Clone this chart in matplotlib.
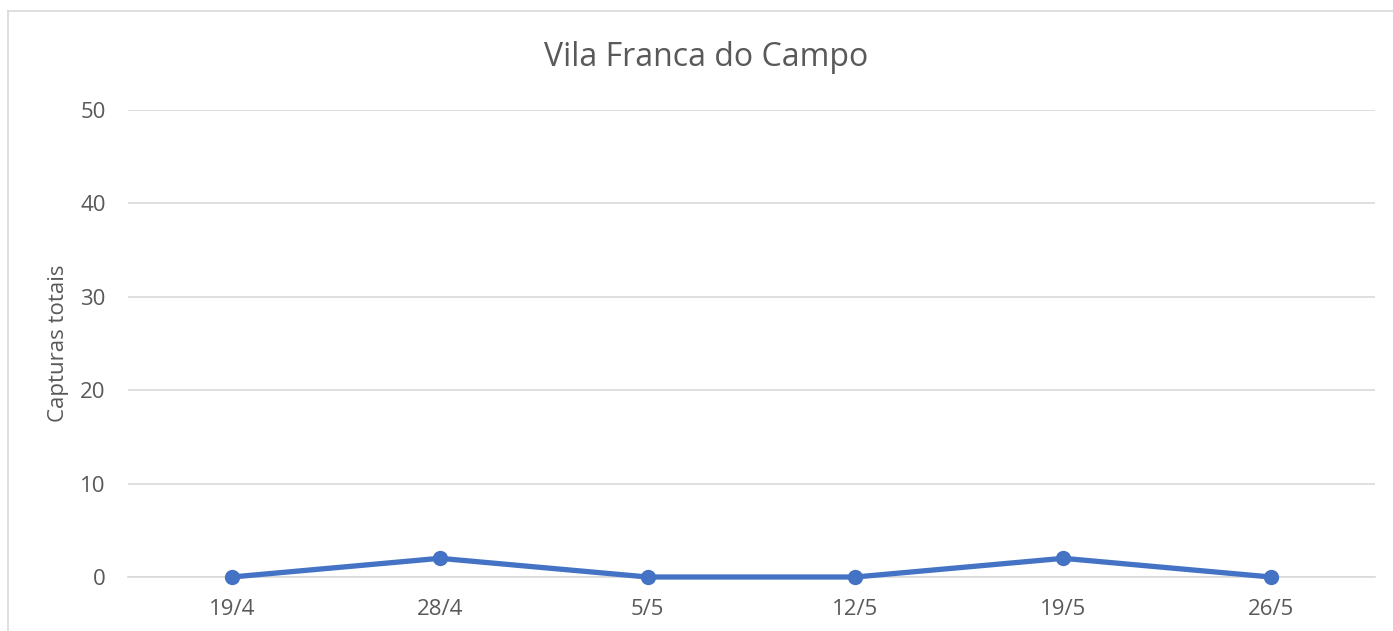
import matplotlib.pyplot as plt
from matplotlib.lines import Line2D

datas = ["19/4", "28/4", "5/5", "12/5", "19/5", "26/5"]
capturas = [0, 2, 0, 0, 2, 0]
y_ticks = [0, 10, 20, 30, 40, 50]

cinza_texto = "#595959"
cinza_grelha = "#D9D9D9"
azul = "#4472C4"

plt.rcParams["font.family"] = ["Open Sans", "DejaVu Sans"]

fig = plt.figure(figsize=(13.93, 6.31), dpi=100)
ax = fig.add_axes([128 / 1393, (631 - 577) / 631, 1247 / 1393, 467 / 631])

x = list(range(len(datas)))
ax.plot(x, capturas, color=azul, linewidth=3.8, marker="o", markersize=10,
        solid_capstyle="round", zorder=3, clip_on=False)

ax.set_xlim(-0.5, len(datas) - 0.5)
ax.set_ylim(0, 50)
ax.set_xticks(x)
ax.set_xticklabels(datas)
ax.set_yticks(y_ticks)
ax.tick_params(axis="both", length=0, labelsize=16, colors=cinza_texto)
ax.tick_params(axis="x", pad=16)
ax.tick_params(axis="y", pad=16)

ax.grid(axis="y", color=cinza_grelha, linewidth=1.2)
ax.set_axisbelow(True)
for lado in ["top", "right", "left"]:
    ax.spines[lado].set_visible(False)
ax.spines["bottom"].set_color(cinza_grelha)
ax.spines["bottom"].set_linewidth(1.2)

ax.set_ylabel("Capturas totais", fontsize=16, color=cinza_texto, labelpad=8)
fig.text(706 / 1393, 1 - 58 / 631, "Vila Franca do Campo", fontsize=23,
         color=cinza_texto, ha="center", va="center")

# moldura do gráfico
fig.add_artist(Line2D([8 / 1393, 8 / 1393], [0, 1 - 11 / 631],
                      color=cinza_grelha, linewidth=1.2, transform=fig.transFigure))
fig.add_artist(Line2D([8 / 1393, 1], [1 - 11 / 631, 1 - 11 / 631],
                      color=cinza_grelha, linewidth=1.2, transform=fig.transFigure))

fig.savefig("out.png", dpi=100)
